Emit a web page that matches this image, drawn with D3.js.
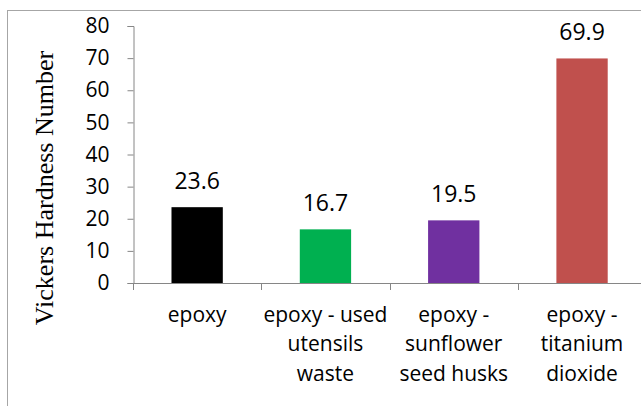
<!DOCTYPE html>
<html><head><meta charset="utf-8">
<script src="https://cdn.jsdelivr.net/npm/d3@7"></script>
<style>body{margin:0;background:#fff}svg{display:block}</style>
</head><body>
<svg id="c" width="641" height="406"></svg>
<script>
const categories = [["epoxy"], ["epoxy - used", "utensils", "waste"], ["epoxy -", "sunflower", "seed husks"], ["epoxy -", "titanium", "dioxide"]];
const values = [23.6, 16.7, 19.5, 69.9];
const valueLabels = ["23.6", "16.7", "19.5", "69.9"];
const colors = ["#000000", "#00B050", "#7030A0", "#C0504D"];
const yTicks = [0, 10, 20, 30, 40, 50, 60, 70, 80];
const yTitle = "Vickers Hardness Number";

const svg = d3.select("#c");
const font = "'Open Sans', sans-serif";

// chart frame
svg.append("rect").attr("x", 7.5).attr("y", 10.5).attr("width", 700).attr("height", 500)
  .attr("fill", "none").attr("stroke", "#a6a6a6").attr("stroke-width", 1);

const x0 = 133, y0 = 283, yTop = 26;
const band = 128.3;
const x = d3.scaleBand().domain(d3.range(values.length)).range([x0, x0 + band * 4]).paddingInner(0.6).paddingOuter(0.3);
const y = d3.scaleLinear().domain([0, 80]).range([y0, yTop]);

// y axis
const ya = svg.append("g").attr("transform", `translate(${x0 + 0.5},0)`)
  .call(d3.axisLeft(y).tickValues(yTicks).tickSize(6).tickPadding(18));
ya.select(".domain").attr("stroke", "#868686");
ya.selectAll(".tick line").attr("stroke", "#868686");
ya.selectAll(".tick text").attr("font-family", font).attr("font-size", 21).attr("fill", "#000");

// x axis line
const xa = svg.append("g");
xa.append("line").attr("x1", x0).attr("x2", 700).attr("y1", y0 + 0.5).attr("y2", y0 + 0.5).attr("stroke", "#868686");
xa.selectAll("line.tk").data(d3.range(values.length + 1)).join("line").attr("class", "tk")
  .attr("x1", i => Math.round(x0 + i * band) + 0.5).attr("x2", i => Math.round(x0 + i * band) + 0.5)
  .attr("y1", y0).attr("y2", y0 + 7).attr("stroke", "#868686");

// bars
svg.selectAll("rect.bar").data(values).join("rect").attr("class", "bar")
  .attr("x", (d, i) => x(i)).attr("width", x.bandwidth())
  .attr("y", d => y(d)).attr("height", d => y0 - y(d))
  .attr("fill", (d, i) => colors[i]);

// value labels
svg.selectAll("text.val").data(values).join("text").attr("class", "val")
  .attr("x", (d, i) => x(i) + x.bandwidth() / 2).attr("y", d => y(d) - 18.5)
  .attr("text-anchor", "middle").attr("font-family", font).attr("font-size", 23).attr("fill", "#000")
  .text((d, i) => valueLabels[i]);

// category labels
categories.forEach((lines, i) => {
  const t = svg.append("text").attr("text-anchor", "middle").attr("font-family", font)
    .attr("font-size", 21).attr("fill", "#000");
  lines.forEach((l, j) => {
    t.append("tspan").attr("x", x(i) + x.bandwidth() / 2).attr("y", 322 + j * 29.3).text(l);
  });
});

// y title
svg.append("text").attr("transform", `translate(53,188) rotate(-90)`)
  .attr("text-anchor", "middle").attr("font-family", "'Liberation Serif', 'Times New Roman', serif")
  .attr("font-size", 26).attr("fill", "#000").text(yTitle);
</script>
</body></html>
